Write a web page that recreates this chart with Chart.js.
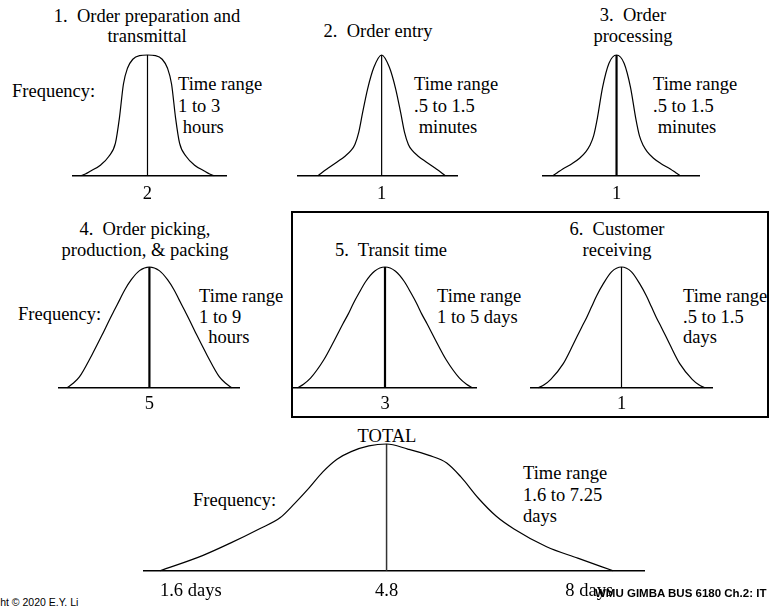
<!DOCTYPE html>
<html>
<head>
<meta charset="utf-8">
<script src="https://cdn.jsdelivr.net/npm/chart.js@4.4.1/dist/chart.umd.min.js"></script>
<style>
  html, body { margin: 0; padding: 0; background: #fff; }
  #slide { position: relative; width: 770px; height: 607px; overflow: hidden; background: #fff; }
  #slide canvas { position: absolute; }
  .t { position: absolute; font-family: "Liberation Serif", "Times New Roman", serif; font-size: 18.5px;
       line-height: 21px; white-space: pre; color: #000; }
  .c { text-align: center; width: 300px; }
  .box { position: absolute; left: 291px; top: 211px; width: 478px; height: 207px;
         box-sizing: border-box; border: 2px solid #000; }
  .foot { position: absolute; font-family: "Liberation Sans", Arial, sans-serif; white-space: pre; color: #000; }
</style>
</head>
<body>
<div id="slide">
  <div class="box"></div>

  <!-- top row -->
  <div class="t c" style="left:-3px;top:6px;line-height:20px;">1.  Order preparation and
transmittal</div>
  <div class="t c" style="left:228px;top:21px;">2.  Order entry</div>
  <div class="t c" style="left:483px;top:5px;">3.  Order
processing</div>
  <div class="t" style="left:12px;top:81px;">Frequency:</div>
  <div class="t" style="left:178px;top:74px;line-height:21.5px;">Time range
1 to 3
 hours</div>
  <div class="t" style="left:414px;top:74px;line-height:21.5px;">Time range
.5 to 1.5
 minutes</div>
  <div class="t" style="left:653px;top:74px;line-height:21.5px;">Time range
.5 to 1.5
 minutes</div>

  <!-- middle row -->
  <div class="t c" style="left:-5px;top:219px;">4.  Order picking,
production, &amp; packing</div>
  <div class="t c" style="left:241px;top:240px;">5.  Transit time</div>
  <div class="t c" style="left:467px;top:219px;">6.  Customer
receiving</div>
  <div class="t" style="left:18px;top:304px;">Frequency:</div>
  <div class="t" style="left:199px;top:286px;line-height:20.5px;">Time range
1 to 9
  hours</div>
  <div class="t" style="left:437px;top:286px;line-height:20.5px;">Time range
1 to 5 days</div>
  <div class="t" style="left:683px;top:286px;line-height:20.5px;">Time range
.5 to 1.5
days</div>

  <!-- total -->
  <div class="t c" style="left:237px;top:426px;">TOTAL</div>
  <div class="t" style="left:193px;top:490px;">Frequency:</div>
  <div class="t" style="left:523px;top:463px;line-height:21.5px;">Time range
1.6 to 7.25
days</div>

  <canvas id="c1" width="155" height="163" style="left:72px;top:49px;"></canvas>
  <canvas id="c2" width="161" height="163" style="left:297px;top:49px;"></canvas>
  <canvas id="c3" width="158" height="163" style="left:542px;top:49px;"></canvas>
  <canvas id="c4" width="182" height="159" style="left:58px;top:261px;"></canvas>
  <canvas id="c5" width="184" height="159" style="left:293px;top:261px;"></canvas>
  <canvas id="c6" width="183" height="159" style="left:530px;top:261px;"></canvas>
  <canvas id="c7" width="502" height="173" style="left:143px;top:438px;"></canvas>

  <div class="foot" style="left:-36px;top:596px;font-size:10.5px;line-height:12px;">Copyright © 2020 E.Y. Li</div>
  <div class="foot" style="left:595px;top:587px;font-size:11.5px;line-height:13px;font-weight:bold;">WMU GIMBA BUS 6180 Ch.2: IT</div>
</div>

<script>
// offsets from the median, as a fraction of each curve's half-spread
const shapeOffsets = [-1, -0.93, -0.85, -0.7, -0.58, -0.48, -0.42, -0.36, -0.3, -0.22, -0.12, 0,
  0.12, 0.22, 0.3, 0.36, 0.42, 0.48, 0.58, 0.7, 0.85, 0.93, 1];

// relative frequency
const prepHeights = [0, 0.015, 0.04, 0.09, 0.16, 0.27, 0.48, 0.76, 0.89, 0.965, 0.995, 1,
  0.995, 0.965, 0.89, 0.76, 0.48, 0.27, 0.16, 0.09, 0.04, 0.015, 0];
const entryHeights = [0, 0.03, 0.06, 0.115, 0.16, 0.21, 0.26, 0.36, 0.52, 0.72, 0.9, 1,
  0.9, 0.72, 0.52, 0.36, 0.26, 0.21, 0.16, 0.115, 0.06, 0.03, 0];
const processingHeights = [0, 0.025, 0.055, 0.1, 0.145, 0.2, 0.25, 0.33, 0.48, 0.73, 0.93, 1,
  0.93, 0.73, 0.48, 0.33, 0.25, 0.2, 0.145, 0.1, 0.055, 0.025, 0];
const pickingHeights = [0, 0.035, 0.09, 0.27, 0.43, 0.57, 0.65, 0.73, 0.81, 0.895, 0.97, 1,
  0.97, 0.895, 0.81, 0.73, 0.65, 0.57, 0.43, 0.27, 0.09, 0.035, 0];
const transitHeights = [0, 0.03, 0.08, 0.23, 0.39, 0.53, 0.61, 0.7, 0.78, 0.88, 0.965, 1,
  0.965, 0.88, 0.78, 0.7, 0.61, 0.53, 0.39, 0.23, 0.08, 0.03, 0];
const receivingHeights = [0, 0.025, 0.07, 0.2, 0.36, 0.5, 0.58, 0.67, 0.76, 0.86, 0.96, 1,
  0.96, 0.86, 0.76, 0.67, 0.58, 0.5, 0.36, 0.2, 0.07, 0.025, 0];

const medianLabels = ["2", "1", "1", "5", "3", "1"];

// total order cycle, in days
const totalDays = [1.6, 2.2, 2.6, 3.0, 3.3, 3.5, 3.7, 3.9, 4.1, 4.3, 4.55, 4.8,
  5.1, 5.4, 5.65, 5.85, 6.1, 6.35, 6.6, 7.06, 7.5, 8.0];
const totalHeights = [0, 0.12, 0.22, 0.33, 0.42, 0.53, 0.65, 0.78, 0.88, 0.94, 0.985, 1,
  0.96, 0.91, 0.85, 0.74, 0.57, 0.43, 0.33, 0.19, 0.1, 0];
const totalMedian = 4.8;
const totalTicks = [1.6, 4.8, 8];
const totalTickLabels = ["1.6 days", "4.8", "8 days"];

const tickFont = { family: "Liberation Serif", size: 18.5 };

function bellChart(id, xs, ys, median, opts) {
  const curve = xs.map(function (x, i) { return { x: x, y: ys[i] }; });
  new Chart(document.getElementById(id), {
    type: "line",
    data: {
      datasets: [
        {
          data: curve,
          borderColor: "#000",
          borderWidth: 1.2,
          pointRadius: 0,
          cubicInterpolationMode: "monotone",
          fill: false,
          clip: false,
        },
        {
          data: [{ x: median, y: 0 }, { x: median, y: 1 }],
          borderColor: opts.lineColor || "#000",
          borderWidth: opts.lineWidth,
          pointRadius: 0,
          fill: false,
          clip: false,
        },
      ],
    },
    options: {
      responsive: false,
      animation: false,
      events: [],
      layout: { padding: { top: 6, left: 0, right: 0, bottom: 0 } },
      plugins: { legend: { display: false }, tooltip: { enabled: false } },
      scales: {
        x: {
          type: "linear",
          min: opts.min,
          max: opts.max,
          grid: { display: false, drawTicks: false },
          border: { display: true, color: "#000", width: 1.5 },
          afterBuildTicks: function (scale) {
            scale.ticks = opts.ticks.map(function (v) { return { value: v }; });
          },
          ticks: {
            autoSkip: false,
            maxRotation: 0,
            padding: opts.padding,
            align: opts.align || "center",
            color: "#000",
            font: tickFont,
            callback: function (value, index) { return opts.labels[index]; },
          },
        },
        y: { display: false, min: 0, max: 1 },
      },
    },
  });
}

bellChart("c1", shapeOffsets, prepHeights, 0, { min: -1.13, max: 1.19, lineWidth: 1.2, padding: 7, ticks: [0], labels: [medianLabels[0]] });
bellChart("c2", shapeOffsets, entryHeights, 0, { min: -1.33, max: 1.2, lineWidth: 1.2, padding: 7, ticks: [0], labels: [medianLabels[1]] });
bellChart("c3", shapeOffsets, processingHeights, 0, { min: -1.17, max: 1.31, lineWidth: 2.2, padding: 7, ticks: [0], labels: [medianLabels[2]] });
bellChart("c4", shapeOffsets, pickingHeights, 0, { min: -1.11, max: 1.1, lineWidth: 2.2, padding: 5, ticks: [0], labels: [medianLabels[3]] });
bellChart("c5", shapeOffsets, transitHeights, 0, { min: -1.05, max: 1.05, lineWidth: 2.2, padding: 5, ticks: [0], labels: [medianLabels[4]] });
bellChart("c6", shapeOffsets, receivingHeights, 0, { min: -1.1, max: 1.1, lineWidth: 1.2, padding: 5, ticks: [0], labels: [medianLabels[5]] });
bellChart("c7", totalDays, totalHeights, totalMedian, { min: 1.36, max: 8.45, lineWidth: 1.5, lineColor: "#333", padding: 9, align: "inner", ticks: totalTicks, labels: totalTickLabels });
</script>
</body>
</html>
